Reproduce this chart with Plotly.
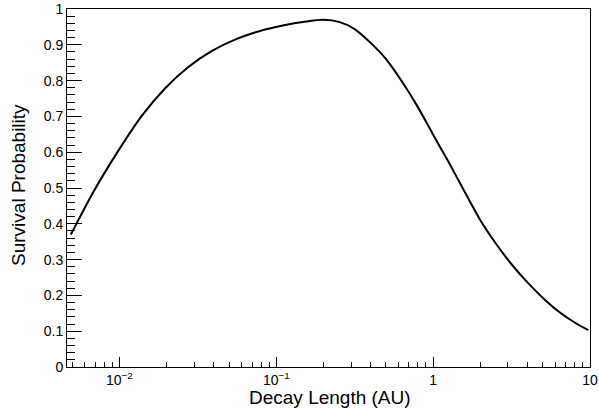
import numpy as np
import plotly.graph_objects as go

# survival probability vs decay length
decay_length = [0.0049, 0.0069, 0.0098, 0.0138, 0.0195, 0.0275, 0.0389, 0.055,
                0.0776, 0.11, 0.155, 0.2, 0.251, 0.316, 0.398, 0.501, 0.631,
                0.794, 1.0, 1.26, 1.585, 2.0, 2.51, 3.16, 3.98, 5.01, 6.31,
                7.94, 9.75]
survival = [0.370, 0.493, 0.603, 0.700, 0.778, 0.838, 0.883, 0.915,
            0.938, 0.954, 0.965, 0.970, 0.964, 0.944, 0.906, 0.860, 0.798,
            0.728, 0.649, 0.571, 0.490, 0.410, 0.345, 0.287, 0.237, 0.193,
            0.155, 0.125, 0.103]

x_major = [0.01, 0.1, 1, 10]
x_major_text = ["10<sup>\u22122</sup>", "10<sup>\u22121</sup>", "1", "10"]
y_major = [0, 0.1, 0.2, 0.3, 0.4, 0.5, 0.6, 0.7, 0.8, 0.9, 1]
y_major_text = ["0", "0.1", "0.2", "0.3", "0.4", "0.5", "0.6", "0.7", "0.8", "0.9", "1"]

x_minor = [m * 10.0 ** e for e in range(-3, 1) for m in range(2, 10)]
x_minor = [v for v in x_minor if 0.0046 < v < 10]
y_minor = [round(0.02 * i, 2) for i in range(51)]

font = "Liberation Sans, Arial, Helvetica, sans-serif"

fig = go.Figure()
fig.add_trace(go.Scatter(
    x=decay_length,
    y=survival,
    mode="lines",
    line=dict(color="black", width=2, shape="spline", smoothing=0.8),
    showlegend=False,
))

fig.update_xaxes(
    type="log",
    range=[np.log10(0.00463), 1],
    tickmode="array", tickvals=x_major, ticktext=x_major_text,
    ticks="inside", ticklen=10, tickwidth=1, tickcolor="black",
    minor=dict(tickmode="array", tickvals=x_minor, ticks="inside",
               ticklen=5, tickwidth=1, tickcolor="black", showgrid=False),
    showline=True, linecolor="black", linewidth=1, mirror=True,
    showgrid=False, zeroline=False, automargin=False,
    tickfont=dict(family=font, size=14, color="black"),
)
fig.update_yaxes(
    range=[0, 1],
    tickmode="array", tickvals=y_major, ticktext=y_major_text,
    ticks="inside", ticklen=15, tickwidth=1, tickcolor="black",
    minor=dict(tickmode="array", tickvals=y_minor, ticks="inside",
               ticklen=8, tickwidth=1, tickcolor="black", showgrid=False),
    showline=True, linecolor="black", linewidth=1, mirror=True,
    showgrid=False, zeroline=False, automargin=False,
    tickfont=dict(family=font, size=14, color="black"),
)

# axis titles, centred like the reference
fig.add_annotation(text="Decay Length (AU)", xref="paper", yref="paper",
                   x=0.503, y=-0.084, xanchor="center", yanchor="middle",
                   showarrow=False, font=dict(family=font, size=19, color="black"))
fig.add_annotation(text="Survival Probability", xref="paper", yref="paper",
                   x=-0.094, y=0.508, xanchor="center", yanchor="middle",
                   textangle=-90, showarrow=False,
                   font=dict(family=font, size=19, color="black"))

fig.update_layout(
    width=599, height=409,
    margin=dict(l=67, r=9, t=9, b=42),
    paper_bgcolor="white", plot_bgcolor="white",
)

# drop the browser's default body margin so the figure sits at the corner
fig.write_html("out.html", config={"displayModeBar": False},
               post_script="document.body.style.margin='0';")
